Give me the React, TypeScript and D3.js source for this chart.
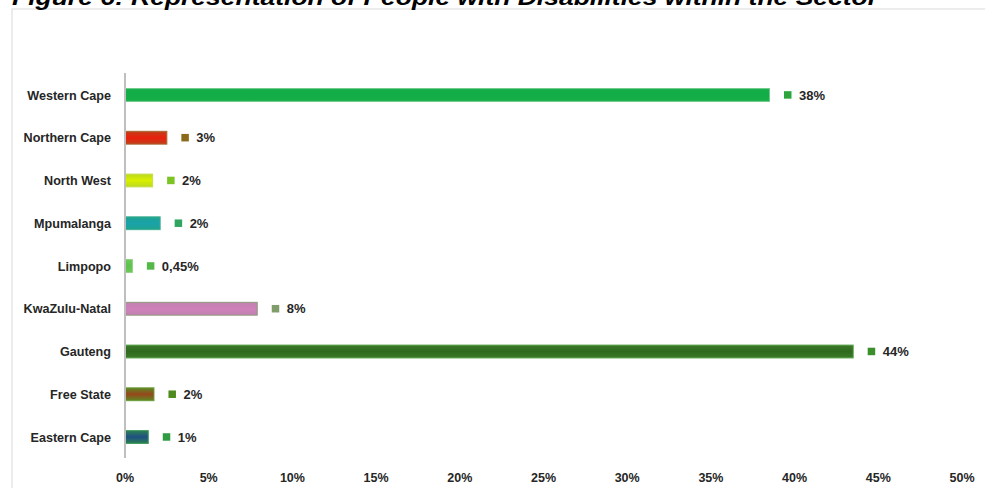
import React from "react";
import * as d3 from "d3";

const categories = [
  "Western Cape",
  "Northern Cape",
  "North West",
  "Mpumalanga",
  "Limpopo",
  "KwaZulu-Natal",
  "Gauteng",
  "Free State",
  "Eastern Cape",
];
const values = [38.5, 2.5, 1.65, 2.1, 0.44, 7.9, 43.5, 1.73, 1.39];
const valueLabels = ["38%", "3%", "2%", "2%", "0,45%", "8%", "44%", "2%", "1%"];
const barCenterColors = ["#12ad47", "#e8200c", "#d9f000", "#1aa2ab", "#5ec24c", "#cf80ba", "#2f6a1f", "#98461c", "#1f4f82"];
const barEdgeColors = ["#16ae4a", "#c2401a", "#bcd81e", "#1ea38e", "#6cc85a", "#c282b0", "#3b7a29", "#5c8a22", "#2a8052"];
const barStrokeColors = ["#70c98a", "#a86a30", "#c8de50", "#40b090", "#8ad47a", "#8f9a7c", "#58a048", "#6a9a38", "#3f9a5e"];
const markerColors = ["#2ca63c", "#8b6b1a", "#7cc424", "#2fa55e", "#55b94a", "#7f9c6a", "#3b8f2b", "#4f8a1e", "#309c42"];
const xTicks = [0, 5, 10, 15, 20, 25, 30, 35, 40, 45, 50];
const title = "Figure 6: Representation of People with Disabilities within the Sector";

export default function App() {
  const W = 985;
  const H = 488;
  const x = d3.scaleLinear().domain([0, 50]).range([125, 962]);
  const y = d3
    .scaleBand<string>()
    .domain(categories)
    .range([73.6, 458.4])
    .paddingInner(0.7)
    .paddingOuter(0.35);
  const bw = y.bandwidth();
  const font = "'Liberation Sans', Arial, sans-serif";
  const textColor = "#262626";

  return (
    <svg
      width={W}
      height={H}
      style={{ position: "absolute", left: 0, top: 0, background: "#fff" }}
    >
      <defs>
        {categories.map((c, i) => (
          <linearGradient key={c} id={`g${i}`} x1="0" y1="0" x2="0" y2="1">
            <stop offset="0%" stopColor={barEdgeColors[i]} />
            <stop offset="50%" stopColor={barCenterColors[i]} />
            <stop offset="100%" stopColor={barEdgeColors[i]} />
          </linearGradient>
        ))}
      </defs>
      <rect x={0} y={0} width={W} height={H} fill="#fff" />
      {/* chart frame */}
      <rect x={12} y={9} width={W + 20} height={H + 20} fill="#fff" stroke="#d9d9d9" strokeWidth={1} />
      {/* title */}
      <text
        x={12}
        y={5}
        fontFamily={font}
        fontWeight="bold"
        fontStyle="italic"
        fontSize={22}
        fill="#000"
        textLength={866}
        lengthAdjust="spacingAndGlyphs"
      >
        {title}
      </text>

      {/* bars */}
      {categories.map((c, i) => {
        const y0 = y(c) as number;
        const xe = x(values[i]);
        const cy = y0 + bw / 2;
        return (
          <g key={c}>
            <rect
              x={x(0)}
              y={y0}
              width={xe - x(0)}
              height={bw}
              fill={`url(#g${i})`}
              stroke={barStrokeColors[i]}
              strokeWidth={1}
            />
            <rect x={xe + 14.5} y={cy - 3.8} width={7.5} height={7.5} fill={markerColors[i]} />
            <text
              x={xe + 29.5}
              y={cy}
              dy="0.36em"
              fontFamily={font}
              fontWeight="bold"
              fontSize={13}
              fill={textColor}
            >
              {valueLabels[i]}
            </text>
            <text
              x={111}
              y={cy}
              dy="0.36em"
              textAnchor="end"
              fontFamily={font}
              fontWeight="bold"
              fontSize={12.6}
              fill={textColor}
            >
              {c}
            </text>
          </g>
        );
      })}

      {/* vertical axis line */}
      <line x1={x(0)} x2={x(0)} y1={73} y2={458} stroke="#bfbfbf" strokeWidth={2} />

      {/* x tick labels */}
      {xTicks.map((t) => (
        <text
          key={t}
          x={x(t)}
          y={477}
          dy="0.36em"
          textAnchor="middle"
          fontFamily={font}
          fontWeight="bold"
          fontSize={12.5}
          fill={textColor}
        >
          {`${t}%`}
        </text>
      ))}
    </svg>
  );
}
